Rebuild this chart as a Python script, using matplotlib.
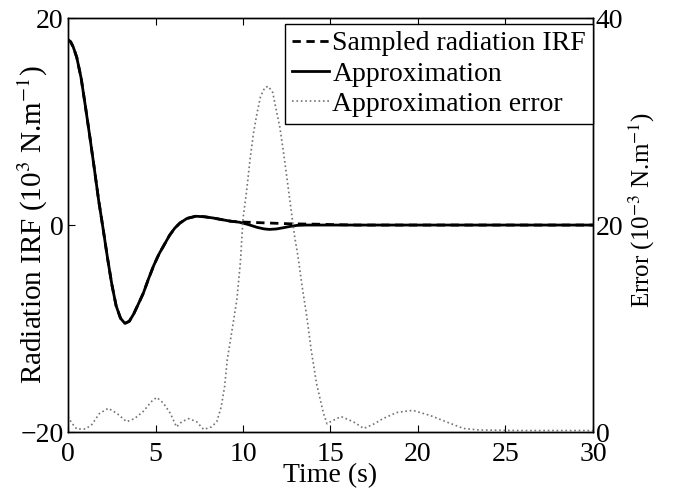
# irf_plot.py
# Radiation IRF, its approximation and the approximation error

import matplotlib
matplotlib.use("Agg")
import matplotlib.pyplot as plt

plt.rcParams['font.family'] = ['Liberation Serif', 'DejaVu Serif']
plt.rcParams['mathtext.fontset'] = 'stix'
plt.rcParams['font.size'] = 20

# approximation of the radiation IRF (10^3 N.m^-1)
t_approx = [0.0, 0.15, 0.3, 0.5, 0.75, 1.0, 1.25, 1.5, 1.75, 2.0, 2.25, 2.5, 2.75,
            3.0, 3.25, 3.5, 3.75, 4.0, 4.3, 4.6, 4.9, 5.2, 5.5, 5.8, 6.1,
            6.4, 6.8, 7.3, 7.8, 8.3, 8.8, 9.3, 9.8, 10.3, 10.8, 11.2, 11.5,
            11.9, 12.3, 12.7, 13.1, 13.6, 14.2, 15.0, 16.0, 18.0, 22.0, 26.0, 30.0]
irf_approx = [17.9, 17.7, 17.2, 16.2, 14.2, 11.4, 8.5, 5.5, 2.4, -0.3, -3.1, -5.7, -7.8,
              -9.0, -9.5, -9.3, -8.6, -7.7, -6.6, -5.2, -3.9, -2.8, -1.9, -1.0, -0.3,
              0.2, 0.64, 0.85, 0.8, 0.68, 0.52, 0.37, 0.27, 0.05, -0.22, -0.37, -0.42,
              -0.38, -0.26, -0.13, -0.03, 0.0, 0.0, 0.0, 0.0, 0.0, 0.0, 0.0, 0.0]

# sampled IRF
t_sampled = [0.0, 0.15, 0.3, 0.5, 0.75, 1.0, 1.25, 1.5, 1.75, 2.0, 2.25, 2.5, 2.75,
             3.0, 3.25, 3.5, 3.75, 4.0, 4.3, 4.6, 4.9, 5.2, 5.5, 5.8, 6.1,
             6.4, 6.8, 7.3, 7.8, 8.3, 8.8, 9.3, 9.8, 10.5, 11.1, 11.9, 12.7,
             13.5, 14.3, 15.2, 16.5, 18.0, 22.0, 26.0, 30.0]
irf_sampled = [17.9, 17.7, 17.2, 16.2, 14.2, 11.4, 8.5, 5.5, 2.4, -0.3, -3.1, -5.7, -7.8,
               -9.0, -9.5, -9.3, -8.6, -7.7, -6.6, -5.2, -3.9, -2.8, -1.9, -1.0, -0.3,
               0.2, 0.64, 0.85, 0.8, 0.68, 0.52, 0.37, 0.3, 0.26, 0.22, 0.17, 0.12,
               0.1, 0.08, 0.04, 0.0, 0.0, 0.0, 0.0, 0.0]

# approximation error (10^-3 N.m^-1)
t_err = [0.0, 0.2, 0.5, 1.0, 1.35, 1.8, 2.3, 2.8, 3.35, 3.8, 4.3, 4.8, 5.07,
         5.45, 5.85, 6.2, 6.5, 6.9, 7.35, 7.75, 8.2, 8.5, 8.75, 8.95, 9.1,
         9.35, 9.65, 9.85, 10.0, 10.2, 10.4, 10.6, 10.8, 11.0, 11.25, 11.45,
         11.7, 11.9, 12.1, 12.3, 12.5, 12.7, 12.95, 13.15, 13.35, 13.65, 13.9,
         14.2, 14.6, 14.8, 15.0, 15.6, 16.3, 16.9, 17.5, 18.0, 18.8, 19.7,
         20.7, 21.6, 22.6, 23.5, 26.0, 30.0]
err = [1.5, 0.9, 0.3, 0.3, 0.7, 1.8, 2.3, 1.8, 1.0, 1.3, 2.0, 3.0, 3.35,
       2.8, 1.8, 0.5, 1.0, 1.3, 1.0, 0.25, 0.5, 1.0, 2.4, 4.4, 7.0,
       9.6, 12.8, 16.4, 20.6, 23.2, 26.3, 28.9, 30.8, 32.4, 33.3, 33.4,
       32.8, 31.1, 29.5, 27.2, 24.7, 22.1, 18.9, 16.9, 14.4, 11.1, 7.9,
       4.7, 1.8, 0.8, 1.0, 1.5, 1.0, 0.35, 0.8, 1.3, 1.9, 2.1,
       1.6, 1.0, 0.35, 0.2, 0.15, 0.15]

x_ticks = [0, 5, 10, 15, 20, 25, 30]
left_ticks = [-20, 0, 20]
right_ticks = [0, 20, 40]


def main():
    fig = plt.figure(figsize=(6.76, 4.91), dpi=100)
    ax = fig.add_axes([0.1006, 0.120, 0.7766, 0.8433])
    ax2 = ax.twinx()

    l1, = ax.plot(t_sampled, irf_sampled, color='black', lw=2, dashes=(3, 2),
                  label="Sampled radiation IRF", zorder=3)
    l2, = ax.plot(t_approx, irf_approx, color='black', lw=2,
                  label="Approximation", zorder=2)
    l3, = ax2.plot(t_err, err, color='0.45', lw=1.2, ls=':',
                   label="Approximation error")

    ax.set_xlim(0, 30)
    ax.set_ylim(-20, 20)
    ax2.set_ylim(0, 40)
    ax.set_xticks(x_ticks)
    ax.set_yticks(left_ticks)
    ax2.set_yticks(right_ticks)

    ax.tick_params(axis='x', direction='in', top=True, length=5, pad=7)
    ax.tick_params(axis='y', direction='in', length=5, pad=3)
    ax2.tick_params(axis='y', direction='in', length=5, pad=2)
    for a in (ax, ax2):
        for s in a.spines.values():
            s.set_linewidth(1.0)

    ax.set_xlabel("Time (s)", labelpad=-3)
    ax.set_ylabel("Radiation IRF (10$^{3}$ N.m$^{-1}$)", fontsize=21)
    ax.yaxis.set_label_coords(-0.035, 0.5)
    ax2.set_ylabel("Error (10$^{-3}$ N.m$^{-1}$)", fontsize=18)
    ax2.yaxis.set_label_coords(1.065, 0.536)

    leg = ax2.legend([l1, l2, l3], [l.get_label() for l in (l1, l2, l3)],
                     loc='upper right', bbox_to_anchor=(1.0, 0.9855),
                     fancybox=False, framealpha=1, edgecolor='black',
                     handlelength=1.33, handletextpad=0.12, borderpad=0.25,
                     labelspacing=0.17, borderaxespad=0)
    leg.get_frame().set_linewidth(1.0)

    fig.savefig("out.png", dpi=100)


if __name__ == "__main__":
    main()
